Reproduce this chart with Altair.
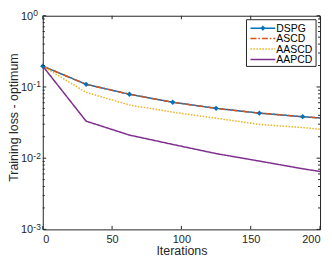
import altair as alt
import pandas as pd

# ---- data ----
iters = [0, 31.25, 62.5, 93.75, 125, 156.25, 187.5, 200]
dspg  = [0.196, 0.109, 0.079, 0.061, 0.0501, 0.0429, 0.0382, 0.0367]
ascd  = [0.196, 0.109, 0.079, 0.061, 0.0501, 0.0429, 0.0382, 0.0367]
aascd = [0.196, 0.084, 0.0558, 0.0442, 0.0364, 0.0298, 0.0269, 0.0255]
aapcd = [0.196, 0.0331, 0.0211, 0.0156, 0.0116, 0.0091, 0.0071, 0.0065]

series = ["DSPG", "ASCD", "AASCD", "AAPCD"]
colors = ["#0072BD", "#D95319", "#EDB120", "#7E2F8E"]
dashes = [[1, 0], [6, 2, 1.5, 2], [1.5, 1.5], [1, 0]]

x_ticks = [0, 50, 100, 150, 200]
y_decades = [0.001, 0.01, 0.1, 1.0]
y_exps = ["-3", "-2", "-1", "0"]
y_minor = [m * d for d in [0.001, 0.01, 0.1] for m in range(2, 10)]

W, H = 279, 215
FONT = "Liberation Sans"
INK = "#262626"

rows = []
for name, vals in zip(series, [dspg, ascd, aascd, aapcd]):
    for xx, yy in zip(iters, vals):
        rows.append({"series": name, "x": xx, "y": yy})
df = pd.DataFrame(rows)

xs = alt.Scale(domain=[0, 200], nice=False, zero=False)
ys = alt.Scale(type="log", domain=[0.001, 1], nice=False)

X = alt.X("x:Q", scale=xs,
          axis=alt.Axis(values=x_ticks, ticks=False, domain=False, grid=False,
                        labelFont=FONT, labelFontSize=11, labelColor=INK,
                        labelPadding=4, title="Iterations", titleFont=FONT,
                        titleFontSize=12.5, titleFontWeight="normal",
                        titleColor=INK, titleBaseline="middle", titleY=21))
Y = alt.Y("y:Q", scale=ys,
          axis=alt.Axis(labels=False, ticks=False, domain=False, grid=False,
                        title="Training loss - optimum", titleFont=FONT,
                        titleFontSize=12.5, titleFontWeight="normal",
                        titleColor=INK, titleAngle=-90,
                        titleBaseline="middle", titleAlign="center",
                        titleX=-29.5, titleY=102))

base = alt.Chart(df)

lines = []
for name, c, d in zip(series, colors, dashes):
    lines.append(
        base.transform_filter(alt.datum.series == name)
        .mark_line(color=c, strokeWidth=1.5, strokeDash=d)
        .encode(x=X, y=Y)
    )

markers = (
    base.transform_filter((alt.datum.series == "DSPG") & (alt.datum.x < 200))
    .mark_point(shape="diamond", filled=True, size=28, color=colors[0], opacity=1)
    .encode(x=alt.X("x:Q", scale=xs), y=alt.Y("y:Q", scale=ys))
)

# inner ticks (MATLAB style)
xt = pd.DataFrame({"t": x_ticks})
xtick_b = alt.Chart(xt).mark_rule(color=INK, strokeWidth=1).encode(
    x=alt.X("t:Q", scale=xs), y=alt.value(H), y2=alt.value(H - 3.5))
xtick_t = alt.Chart(xt).mark_rule(color=INK, strokeWidth=1).encode(
    x=alt.X("t:Q", scale=xs), y=alt.value(0), y2=alt.value(3.5))

yt = pd.DataFrame({"t": y_decades, "e": y_exps})
ym = pd.DataFrame({"t": y_minor})
ytick_l = alt.Chart(yt).mark_rule(color=INK, strokeWidth=1).encode(
    y=alt.Y("t:Q", scale=ys), x=alt.value(0), x2=alt.value(3.5))
ytick_r = alt.Chart(yt).mark_rule(color=INK, strokeWidth=1).encode(
    y=alt.Y("t:Q", scale=ys), x=alt.value(W), x2=alt.value(W - 3.5))
ymin_l = alt.Chart(ym).mark_rule(color=INK, strokeWidth=1).encode(
    y=alt.Y("t:Q", scale=ys), x=alt.value(0), x2=alt.value(2))
ymin_r = alt.Chart(ym).mark_rule(color=INK, strokeWidth=1).encode(
    y=alt.Y("t:Q", scale=ys), x=alt.value(W), x2=alt.value(W - 2))

ylab_base = alt.Chart(yt).mark_text(font=FONT, fontSize=11, color=INK,
                                    align="left", baseline="middle", dy=1).encode(
    y=alt.Y("t:Q", scale=ys), x=alt.value(-22), text=alt.value("10"))
ylab_exp = alt.Chart(yt).mark_text(font=FONT, fontSize=8.5, color=INK,
                                   align="left", baseline="middle", dy=-2.5).encode(
    y=alt.Y("t:Q", scale=ys), x=alt.value(-9.5), text="e:N")

# legend (manual, MATLAB style)
LX0, LY0, LW, LH = 205, 4, 70, 47
ROW0, DROW = 8.5, 10.5
leg_box = alt.Chart(pd.DataFrame({"a": [0]})).mark_rect(
    fill="white", stroke=INK, strokeWidth=1).encode(
    x=alt.value(LX0), x2=alt.value(LX0 + LW), y=alt.value(LY0), y2=alt.value(LY0 + LH))
leg_layers = [leg_box]
for i, (name, c, d) in enumerate(zip(series, colors, dashes)):
    one = pd.DataFrame({"series": [name]})
    yy = LY0 + ROW0 + i * DROW
    leg_layers.append(alt.Chart(one).mark_rule(color=c, strokeWidth=1.5, strokeDash=d).encode(
        x=alt.value(LX0 + 4), x2=alt.value(LX0 + 29), y=alt.value(yy)))
    leg_layers.append(alt.Chart(one).mark_text(font=FONT, fontSize=10.5, color="black",
                                              align="left", baseline="middle").encode(
        x=alt.value(LX0 + 30), y=alt.value(yy + 0.5), text="series:N"))
leg_layers.append(alt.Chart(pd.DataFrame({"series": ["DSPG"]})).mark_point(
    shape="diamond", filled=True, size=28, color=colors[0], opacity=1).encode(
    x=alt.value(LX0 + 16.5), y=alt.value(LY0 + ROW0)))

chart = alt.layer(
    *lines, markers, xtick_b, xtick_t, ytick_l, ytick_r, ymin_l, ymin_r,
    ylab_base, ylab_exp, *leg_layers
).properties(
    width=W, height=H,
    autosize=alt.AutoSizeParams(type="none"),
    padding={"left": 35, "top": 7, "right": 4, "bottom": 28},
    background="white",
).configure_view(stroke=INK, strokeWidth=1)

chart.save("out.html", embed_options={"renderer": "svg", "actions": False})
